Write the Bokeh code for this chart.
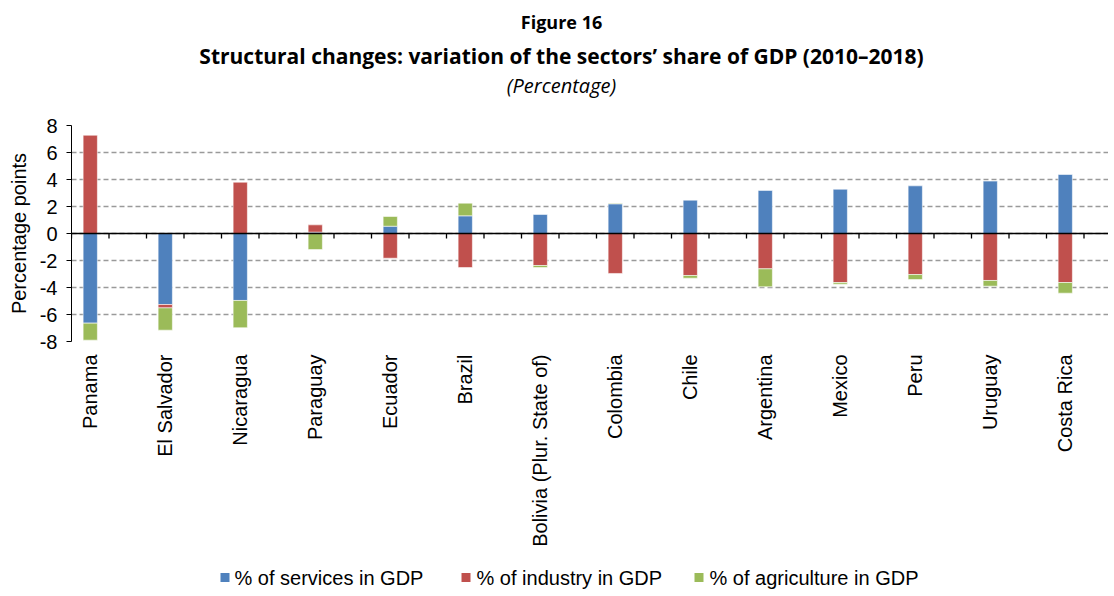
import math
from bokeh.plotting import figure
from bokeh.layouts import column
from bokeh.models import (ColumnDataSource, FixedTicker, Span)
from bokeh.core.properties import value
from bokeh.embed import file_html
from bokeh.resources import INLINE

countries = ["Panama", "El Salvador", "Nicaragua", "Paraguay", "Ecuador", "Brazil",
             "Bolivia (Plur. State of)", "Colombia", "Chile", "Argentina", "Mexico",
             "Peru", "Uruguay", "Costa Rica"]
services = [-6.64, -5.26, -4.96, 0.10, 0.54, 1.31, 1.41, 2.20, 2.47, 3.19, 3.28, 3.53, 3.88, 4.37]
industry = [7.28, -0.25, 3.80, 0.54, -1.83, -2.52, -2.37, -2.96, -3.11, -2.62, -3.63, -3.04, -3.48, -3.63]
agriculture = [-1.26, -1.65, -2.02, -1.19, 0.72, 0.94, -0.15, 0.05, -0.20, -1.33, -0.12, -0.37, -0.42, -0.79]

series_names = ["% of services in GDP", "% of industry in GDP", "% of agriculture in GDP"]
series_values = [services, industry, agriculture]
series_colors = ["#4F81BD", "#C0504D", "#9BBB59"]
y_ticks = [-8, -6, -4, -2, 0, 2, 4, 6, 8]

title_1 = "Figure 16"
title_2 = "Structural changes: variation of the sectors\u2019 share of GDP (2010\u20132018)"
title_3 = "(Percentage)"

n = len(countries)
xs = list(range(n))

W = 1108
LEFT = 71
PX_PER_CAT = 75.0
x0 = -0.25
x1 = x0 + (W - LEFT) / PX_PER_CAT
y0, y1 = -8, 8

TOP_H = 113
MAIN_H = 240
BOT_H = 237


def bare(fig):
    fig.outline_line_color = None
    fig.xaxis.visible = False
    fig.yaxis.visible = False
    fig.xgrid.visible = False
    fig.ygrid.visible = False


# ---------- title block ----------
top = figure(width=W, height=TOP_H, output_backend="svg", toolbar_location=None,
             x_range=(LEFT, W), y_range=(0, TOP_H),
             min_border_left=LEFT, min_border_right=0, min_border_top=0, min_border_bottom=0)
bare(top)
for txt, yy, style, size in [(title_1, 92, "bold", "18px"), (title_2, 58, "bold", "21px"),
                             (title_3, 28, "italic", "20px")]:
    top.text(x=[561], y=[yy], text=[txt], text_align="center", text_baseline="middle",
             text_font=value("Open Sans"), text_font_style=style, text_font_size=size,
             text_color="black")

# ---------- main chart ----------
p = figure(width=W, height=MAIN_H, output_backend="svg", toolbar_location=None,
           x_range=(x0, x1), y_range=(y0, y1),
           min_border_left=LEFT, min_border_right=0, min_border_top=12, min_border_bottom=12)
p.outline_line_color = None

pos_base = [0.0] * n
neg_base = [0.0] * n
for name, vals, col in zip(series_names, series_values, series_colors):
    tops, bottoms = [], []
    for i, v in enumerate(vals):
        if v >= 0:
            bottoms.append(pos_base[i]); tops.append(pos_base[i] + v); pos_base[i] += v
        else:
            tops.append(neg_base[i]); bottoms.append(neg_base[i] + v); neg_base[i] += v
    src = ColumnDataSource(dict(x=xs, top=tops, bottom=bottoms))
    p.vbar(x="x", top="top", bottom="bottom", width=0.19, source=src,
           fill_color=col, line_color="white", line_alpha=0.55, line_width=1)

p.xgrid.visible = False
p.ygrid.ticker = FixedTicker(ticks=y_ticks)
p.ygrid.grid_line_color = "#9a9a9a"
p.ygrid.grid_line_width = 1.5
p.ygrid.grid_line_dash = "5 3"

p.add_layout(Span(location=0, dimension="width", line_color="black", line_width=1.3))
tick_x = [i * 0.5 - 0.25 for i in range(2 * n)]
tick_len = (y1 - y0) * 5 / 216
p.segment(x0=tick_x, y0=[0] * len(tick_x), x1=tick_x, y1=[-tick_len] * len(tick_x),
          line_color="black", line_width=1.3)

yax = p.yaxis[0]
yax.ticker = FixedTicker(ticks=y_ticks)
yax.major_label_overrides = {t: str(t) for t in y_ticks}
yax.axis_label = "Percentage points"
yax.axis_label_text_font = "Liberation Sans"
yax.axis_label_text_font_style = "normal"
yax.axis_label_text_font_size = "20px"
yax.axis_label_text_color = "black"
yax.axis_label_standoff = 7
yax.major_label_text_font = "Liberation Sans"
yax.major_label_text_font_size = "20px"
yax.major_label_text_color = "black"
yax.major_tick_in = 0
yax.major_tick_out = 5
yax.minor_tick_in = 0
yax.minor_tick_out = 0
yax.axis_line_color = "black"
yax.major_tick_line_color = "black"
yax.major_label_standoff = 9
p.xaxis.visible = False

# ---------- category labels + legend ----------
bot = figure(width=W, height=BOT_H, output_backend="svg", toolbar_location=None,
             x_range=p.x_range, y_range=(0, BOT_H),
             min_border_left=LEFT, min_border_right=0, min_border_top=0, min_border_bottom=0)
bare(bot)
bot.text(x=xs, y=[BOT_H - 1] * n, text=countries, angle=math.pi / 2,
         text_align="right", text_baseline="middle", text_font=value("Liberation Sans"),
         text_font_size="20px", text_color="black")

# legend: coloured squares followed by labels, centred under the chart
leg_sq_px = [226.5, 467.5, 700.5]
leg_tx_px = [236, 478, 711]
to_x = lambda px: x0 + (px - 2 - LEFT) / PX_PER_CAT
bot.scatter(x=[to_x(v) for v in leg_sq_px], y=[13] * 3, marker="square", size=9,
            fill_color=series_colors, line_color=None)
bot.text(x=[to_x(v) for v in leg_tx_px], y=[13] * 3, text=series_names,
         text_align="left", text_baseline="middle", text_font=value("Liberation Sans"),
         text_font_size="20px", text_color="black")

layout = column(top, p, bot, spacing=0)
open("out.html", "w").write(file_html(layout, INLINE))
